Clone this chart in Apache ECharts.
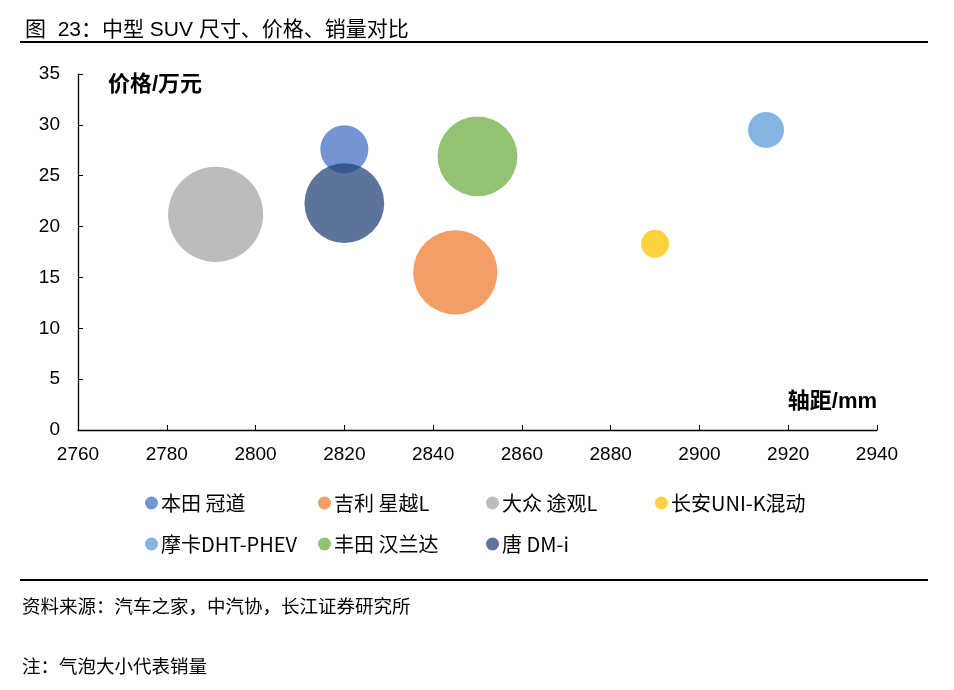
<!DOCTYPE html>
<html>
<head>
<meta charset="utf-8">
<script src="https://cdn.jsdelivr.net/npm/echarts@6/dist/echarts.min.js"></script>
<style>
html,body{margin:0;padding:0;background:#fff;}
#chart{width:954px;height:690px;}
</style>
</head>
<body>
<div id="chart"></div>
<script>
// Data
const names = ['本田 冠道', '吉利 星越L', '大众 途观L', '长安UNI-K混动', '摩卡DHT-PHEV', '丰田 汉兰达', '唐 DM-i'];
const wheelbase = [2820, 2845, 2791, 2890, 2915, 2850, 2820];   // 轴距/mm
const price = [27.6, 15.5, 21.2, 18.3, 29.5, 26.9, 22.3];       // 价格/万元
const sales = [2500, 7700, 9800, 850, 1400, 6900, 6900];        // 销量 (bubble size)
const colors = ['#4472C4', '#ED7D31', '#A5A5A5', '#FFC000', '#5B9BD5', '#70AD47', '#264478'];
const xTicks = {min: 2760, max: 2940, interval: 20};
const yTicks = {min: 0, max: 35, interval: 5};

const chart = echarts.init(document.getElementById('chart'));
const FONT = '"Liberation Sans", Arial, sans-serif';
const CJK = '"Noto Sans CJK SC", "Microsoft YaHei", sans-serif';
const MIX = '"Liberation Sans", "Noto Sans CJK SC", sans-serif';

const series = names.map((n, i) => ({
  name: n,
  type: 'scatter',
  data: [[wheelbase[i], price[i], sales[i]]],
  symbolSize: d => Math.sqrt(d[2] / 10000) * 96,
  itemStyle: {color: colors[i], opacity: 0.75},
  emphasis: {disabled: true}
}));

const legendCols = [[0, 4], [1, 5], [2, 6], [3]];
const legendLeft = [140, 313, 481, 650];
const legends = legendCols.map((idx, c) => ({
  orient: 'vertical',
  left: legendLeft[c],
  top: 488,
  itemGap: 21,
  itemWidth: 13,
  itemHeight: 13,
  icon: 'circle',
  data: idx.map(i => ({name: names[i], itemStyle: {opacity: 0.75}})),
  textStyle: {fontFamily: CJK, fontSize: 20, color: '#000', padding: [0, 0, 0, -2]},
  selectedMode: false
}));

chart.setOption({
  animation: false,
  backgroundColor: '#fff',
  color: colors,
  title: {
    text: '图  23：中型 SUV 尺寸、价格、销量对比',
    left: 20, top: 15,
    textStyle: {fontFamily: MIX, fontSize: 21, fontWeight: 'normal', color: '#000'}
  },
  grid: {left: 78, right: 77, top: 74, bottom: 260},
  xAxis: {
    type: 'value',
    min: xTicks.min, max: xTicks.max, interval: xTicks.interval,
    axisLine: {lineStyle: {color: '#000', width: 1.3}},
    axisTick: {inside: true, length: 5, lineStyle: {color: '#000'}},
    axisLabel: {fontFamily: FONT, fontSize: 19, color: '#000', margin: 15, formatter: v => String(v)},
    splitLine: {show: false},
    name: '轴距/mm',
    nameLocation: 'end',
    nameGap: 0,
    nameTextStyle: {fontFamily: MIX, fontSize: 22, fontWeight: 'bold', color: '#000', align: 'right', verticalAlign: 'bottom', padding: [0, 0, 17, 0]}
  },
  yAxis: {
    type: 'value',
    min: yTicks.min, max: yTicks.max, interval: yTicks.interval,
    axisLine: {show: true, lineStyle: {color: '#000', width: 1.3}},
    axisTick: {show: true, inside: true, length: 5, lineStyle: {color: '#000'}},
    axisLabel: {fontFamily: FONT, fontSize: 19, color: '#000', margin: 18},
    splitLine: {show: false},
    name: '价格/万元',
    nameLocation: 'end',
    nameGap: 0,
    nameTextStyle: {fontFamily: MIX, fontSize: 22, fontWeight: 'bold', color: '#000', align: 'left', verticalAlign: 'top', padding: [0, 0, 0, 30]}
  },
  legend: legends,
  series: series,
  graphic: [
    {type: 'rect', shape: {x: 20, y: 41, width: 908, height: 2}, style: {fill: '#000'}},
    {type: 'rect', shape: {x: 20, y: 579, width: 908, height: 2}, style: {fill: '#000'}},
    {type: 'text', left: 22, top: 597, style: {text: '资料来源：汽车之家，中汽协，长江证券研究所', font: '18.5px "Noto Sans CJK SC", sans-serif', fill: '#000'}},
    {type: 'text', left: 22, top: 657, style: {text: '注：气泡大小代表销量', font: '18.5px "Noto Sans CJK SC", sans-serif', fill: '#000'}}
  ]
});
</script>
</body>
</html>
